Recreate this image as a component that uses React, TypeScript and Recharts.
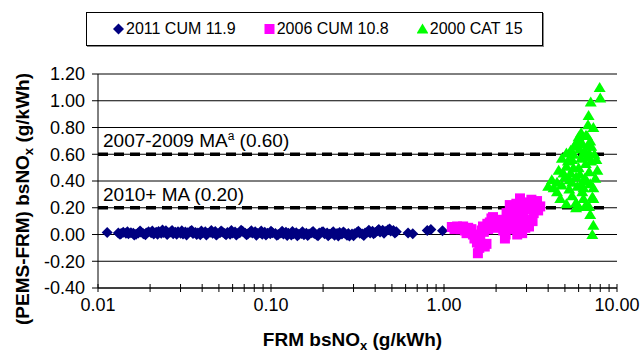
import React from "react";
import {
  ScatterChart,
  Scatter,
  XAxis,
  YAxis,
  CartesianGrid,
  ReferenceLine,
  Legend,
} from "recharts";

const FONT = '"Liberation Sans", Arial, sans-serif';

// x ticks on the log axis, majors get a label
const xTicks = [
  0.01, 0.02, 0.03, 0.04, 0.05, 0.06, 0.07, 0.08, 0.09,
  0.1, 0.2, 0.3, 0.4, 0.5, 0.6, 0.7, 0.8, 0.9,
  1, 2, 3, 4, 5, 6, 7, 8, 9, 10,
];
const xMajor = [0.01, 0.1, 1, 10];
const yTicks = [-0.4, -0.2, 0, 0.2, 0.4, 0.6, 0.8, 1.0, 1.2];

const seriesNames = ["2011 CUM 11.9", "2006 CUM 10.8", "2000 CAT 15"];
const seriesColors = ["#000080", "#FF00FF", "#00FF00"];

// [FRM bsNOx, PEMS-FRM]
const cum2011: [number, number][] = [
  [0.0113, 0.015], [0.0131, 0.012], [0.0136, 0.008], [0.014, 0.016], [0.0145, 0.01],
  [0.015, 0.005], [0.0155, 0.014], [0.016, 0.009], [0.0166, 0.002], [0.0171, 0.012],
  [0.0177, 0.018], [0.0183, 0.006], [0.019, 0.011], [0.0196, 0.02], [0.0203, 0.013],
  [0.021, 0.004], [0.0217, 0.017], [0.0224, 0.022], [0.0232, 0.009], [0.024, 0.015],
  [0.0247, 0.028], [0.0255, 0.012], [0.0263, 0.019], [0.0272, 0.005], [0.028, 0.016],
  [0.029, 0.021], [0.03, 0.01], [0.031, 0.003], [0.032, 0.018], [0.033, 0.013],
  [0.0342, 0.024], [0.0354, 0.008], [0.0366, 0.015], [0.0378, 0.011], [0.039, -0.002],
  [0.0403, 0.014], [0.0417, 0.02], [0.043, 0.007], [0.0445, 0.016], [0.046, 0.01],
  [0.0476, 0.022], [0.049, 0.004], [0.0507, 0.013], [0.0524, 0.018], [0.054, 0.008],
  [0.056, 0.015], [0.058, 0.001], [0.06, 0.012], [0.062, 0.019], [0.064, 0.006],
  [0.066, 0.014], [0.0685, 0.024], [0.071, 0.009], [0.0733, 0.003], [0.0758, 0.016],
  [0.078, 0.011], [0.081, 0.02], [0.0836, 0.007], [0.0865, 0.013], [0.089, 0.002],
  [0.092, 0.017], [0.0955, 0.01], [0.099, 0.005], [0.102, 0.014], [0.106, 0.008],
  [0.11, 0.0], [0.114, 0.012], [0.118, 0.004], [0.122, 0.016], [0.126, 0.009],
  [0.131, -0.004], [0.135, 0.006], [0.14, 0.013], [0.145, 0.001], [0.15, 0.008],
  [0.155, -0.002], [0.16, 0.01], [0.166, 0.004], [0.172, 0.014], [0.178, 0.007],
  [0.184, -0.003], [0.19, 0.011], [0.197, 0.018], [0.204, 0.006], [0.211, 0.012],
  [0.218, 0.002], [0.225, 0.009], [0.233, -0.005], [0.241, 0.007], [0.249, 0.015],
  [0.257, 0.004], [0.266, 0.011], [0.275, -0.006], [0.284, -0.012], [0.294, 0.003],
  [0.304, 0.006], [0.315, 0.016], [0.326, 0.009], [0.337, 0.004], [0.35, 0.012],
  [0.362, 0.018], [0.374, 0.011], [0.386, 0.024], [0.4, 0.015], [0.413, 0.028],
  [0.427, 0.019], [0.442, 0.031], [0.457, 0.022], [0.475, 0.035], [0.492, 0.026],
  [0.51, 0.03], [0.53, 0.021], [0.62, 0.012], [0.66, 0.006], [0.8, 0.03],
  [0.84, 0.038], [0.98, 0.028],
  // second pass of the same runs, a little more spread
  [0.0134, 0.002], [0.0148, 0.021], [0.0162, -0.004], [0.0175, 0.026], [0.0188, -0.002],
  [0.0206, 0.027], [0.0221, 0.001], [0.0236, 0.033], [0.0251, 0.0], [0.0268, 0.03],
  [0.0285, 0.002], [0.0305, 0.028], [0.0325, -0.003], [0.0348, 0.03], [0.0372, 0.0],
  [0.0396, 0.026], [0.0423, -0.004], [0.0452, 0.029], [0.0483, -0.003], [0.0515, 0.027],
  [0.055, -0.002], [0.059, 0.03], [0.063, -0.004], [0.0672, 0.031], [0.0722, -0.002],
  [0.077, 0.028], [0.0823, -0.005], [0.0878, 0.026], [0.0935, -0.003], [0.1, 0.025],
  [0.108, -0.006], [0.116, 0.024], [0.124, -0.007], [0.133, 0.022], [0.142, -0.009],
  [0.152, 0.021], [0.163, -0.008], [0.175, 0.022], [0.187, -0.01], [0.2, 0.02],
  [0.214, -0.009], [0.229, 0.021], [0.245, -0.011], [0.262, 0.019], [0.28, 0.008],
  [0.3, -0.01], [0.32, 0.024], [0.344, -0.008], [0.368, 0.032], [0.392, 0.006],
  [0.42, 0.038], [0.45, 0.01], [0.485, 0.041], [0.52, 0.012],
];

const cum2006: [number, number][] = [
  [1.11, 0.056], [1.19, 0.06], [1.25, 0.04], [1.32, 0.03], [1.38, 0.05],
  [1.42, 0.02], [1.47, 0.0], [1.5, -0.03], [1.55, -0.06], [1.57, -0.14],
  [1.6, -0.1], [1.65, 0.03], [1.68, 0.06], [1.72, -0.09], [1.76, -0.07],
  [1.8, 0.04], [1.84, 0.09], [1.88, 0.12], [1.92, 0.13], [1.97, 0.08],
  [2.0, 0.05], [2.1, 0.07], [2.2, 0.03], [2.25, -0.03], [2.27, 0.0],
  [2.3, 0.16], [2.38, 0.12], [2.4, 0.22], [2.47, 0.09], [2.5, 0.15],
  [2.52, 0.04], [2.6, 0.17], [2.65, 0.0], [2.68, 0.2], [2.75, 0.27],
  [2.8, 0.14], [2.83, 0.01], [2.85, 0.1], [2.9, 0.22], [2.95, 0.05],
  [3.0, 0.11], [3.05, 0.19], [3.1, 0.06], [3.2, 0.26], [3.3, 0.16],
  [3.45, 0.25], [3.6, 0.21],
  [1.15, 0.04], [1.29, 0.06], [1.35, 0.01], [1.44, 0.04], [1.53, -0.02],
  [1.62, -0.04], [1.7, 0.02], [1.78, 0.08], [1.9, 0.06], [2.05, 0.11],
  [2.15, 0.09], [2.33, 0.06], [2.44, 0.19], [2.56, 0.11], [2.62, 0.23],
  [2.72, 0.05], [2.78, 0.21], [2.88, 0.16], [3.0, 0.24], [3.15, 0.2],
  [3.25, 0.1], [3.38, 0.22], [3.5, 0.18],
];

const cat2000: [number, number][] = [
  [4.0, 0.36], [4.2, 0.41], [4.3, 0.35], [4.5, 0.39], [4.5, 0.32],
  [4.6, 0.48], [4.7, 0.27], [4.8, 0.57], [4.8, 0.37], [5.0, 0.43],
  [5.1, 0.61], [5.1, 0.51], [5.1, 0.23], [5.3, 0.41], [5.4, 0.63],
  [5.4, 0.46], [5.5, 0.56], [5.5, 0.39], [5.5, 0.29], [5.7, 0.67],
  [5.8, 0.66], [5.8, 0.43], [5.8, 0.24], [5.8, 0.2], [6.0, 0.73],
  [6.0, 0.5], [6.0, 0.21], [6.2, 0.76], [6.3, 0.32], [6.4, 0.61],
  [6.4, 0.35], [6.6, 0.74], [6.6, 0.53], [6.6, 0.22], [6.7, 0.74],
  [6.8, 0.82], [6.85, 0.89], [6.9, 0.61], [6.9, 0.21], [7.05, 0.99],
  [7.0, 0.15], [7.1, 0.66], [7.2, 0.28], [7.2, 0.0], [7.3, 0.8],
  [7.3, 0.35], [7.3, 0.27], [7.3, 0.07], [7.7, 0.48], [7.94, 1.1],
  [8.0, 1.02],
  [5.2, 0.55], [5.6, 0.6], [5.9, 0.7], [6.1, 0.64], [6.2, 0.57],
  [6.3, 0.68], [6.5, 0.62], [6.7, 0.58], [6.8, 0.66], [7.0, 0.7],
  [6.1, 0.45], [6.5, 0.42], [6.9, 0.47], [7.1, 0.55], [7.4, 0.6],
  [5.6, 0.5], [6.2, 0.38], [6.7, 0.4], [7.0, 0.38], [7.6, 0.56],
  [5.3, 0.34], [6.4, 0.27], [7.5, 0.42], [4.9, 0.46], [5.9, 0.36],
];

const toPoints = (rows: [number, number][]) => rows.map(([x, y]) => ({ x, y }));

const maLines = [
  { y: 0.6, label: "2007-2009 MA", sup: "a", tail: " (0.60)" },
  { y: 0.2, label: "2010+ MA", sup: "", tail: " (0.20)" },
];

const Diamond = ({ cx, cy, fill }: any) => (
  <path d={`M${cx},${cy - 5.5}L${cx + 5.5},${cy}L${cx},${cy + 5.5}L${cx - 5.5},${cy}Z`} fill={fill} />
);
const Square = ({ cx, cy, fill }: any) => (
  <rect x={cx - 5} y={cy - 5} width={10} height={10} fill={fill} />
);
const Triangle = ({ cx, cy, fill }: any) => (
  <path d={`M${cx},${cy - 5.5}L${cx + 6},${cy + 4.5}L${cx - 6},${cy + 4.5}Z`} fill={fill} />
);
const shapes = [Diamond, Square, Triangle];

const XTick = ({ x, y, payload }: any) => {
  const v = payload.value;
  const major = xMajor.some((m) => Math.abs(m - v) < 1e-9);
  return (
    <g>
      <line x1={x} x2={x} y1={y - 4} y2={y + 4} stroke="#000" />
      {major && (
        <text x={x} y={y + 23} textAnchor="middle" fontSize={18} fontFamily={FONT} fill="#000">
          {v.toFixed(2)}
        </text>
      )}
    </g>
  );
};

const renderLegend = () => (
  <div
    style={{
      boxSizing: "border-box",
      height: 34,
      border: "1px solid #000",
      boxShadow: "1px 1px 0 #888",
      background: "#fff",
      display: "flex",
      alignItems: "center",
      paddingLeft: 26,
      gap: 28,
      fontFamily: FONT,
      fontSize: 16,
      color: "#000",
    }}
  >
    {seriesNames.map((name, i) => {
      const Shape = shapes[i];
      return (
        <div key={name} style={{ display: "flex", alignItems: "center" }}>
          <svg width={11} height={12} style={{ marginRight: 2 }}>
            <Shape cx={5.5} cy={6} fill={seriesColors[i]} />
          </svg>
          <span>{name}</span>
        </div>
      );
    })}
  </div>
);

const maLabel = (line: (typeof maLines)[number]) => (props: any) => {
  const vb = props.viewBox;
  return (
    <text x={vb.x + 5} y={vb.y - 7} fontSize={19} fontFamily={FONT} fill="#000">
      {line.label}
      {line.sup && (
        <tspan dy={-7} fontSize={12}>
          {line.sup}
        </tspan>
      )}
      <tspan dy={line.sup ? 7 : 0}>{line.tail}</tspan>
    </text>
  );
};

const yTitle = (props: any) => {
  const vb = props.viewBox;
  const cx = vb.x + 29;
  const cy = vb.y + vb.height / 2 + 18;
  return (
    <text
      x={cx}
      y={cy}
      transform={`rotate(-90, ${cx}, ${cy})`}
      textAnchor="middle"
      fontSize={19}
      fontWeight="bold"
      fontFamily={FONT}
      fill="#000"
    >
      (PEMS-FRM) bsNO
      <tspan dy={4} fontSize={13}>x</tspan>
      <tspan dy={-4}> (g/kWh)</tspan>
    </text>
  );
};

const xTitle = (props: any) => {
  const vb = props.viewBox;
  return (
    <text
      x={vb.x + vb.width / 2 - 5}
      y={vb.y + 58}
      textAnchor="middle"
      fontSize={19}
      fontWeight="bold"
      fontFamily={FONT}
      fill="#000"
    >
      FRM bsNO
      <tspan dy={4} fontSize={13}>x</tspan>
      <tspan dy={-4}> (g/kWh)</tspan>
    </text>
  );
};

export default function App() {
  const series = [cum2011, cum2006, cat2000];
  return (
    <div style={{ position: "absolute", left: 0, top: 0, width: 641, height: 354, background: "#fff" }}>
      <ScatterChart width={641} height={354} margin={{ top: 74, right: 24, bottom: 0, left: 0 }}>
        <CartesianGrid vertical={false} stroke="#000" />
        <XAxis
          type="number"
          dataKey="x"
          scale="log"
          domain={[0.01, 10]}
          ticks={xTicks}
          interval={0}
          allowDataOverflow
          height={66}
          tickSize={0}
          tickMargin={0}
          tickLine={false}
          tick={<XTick />}
          axisLine={{ stroke: "#000" }}
          label={xTitle}
        />
        <YAxis
          type="number"
          dataKey="y"
          domain={[-0.4, 1.2]}
          ticks={yTicks}
          interval={0}
          width={98}
          tickSize={6}
          tickMargin={7}
          tickLine={{ stroke: "#000" }}
          axisLine={{ stroke: "#000" }}
          tick={{ fontSize: 18, fontFamily: FONT, fill: "#000" }}
          tickFormatter={(v: number) => v.toFixed(2)}
          label={yTitle}
        />
        <Legend
          verticalAlign="middle"
          align="center"
          content={renderLegend}
          wrapperStyle={{ top: 12, left: 86, width: 457, height: 34 }}
        />
        {series.map((rows, i) => {
          const Shape = shapes[i];
          return (
            <Scatter
              key={seriesNames[i]}
              name={seriesNames[i]}
              data={toPoints(rows)}
              fill={seriesColors[i]}
              shape={(p: any) => <Shape cx={p.cx} cy={p.cy} fill={seriesColors[i]} />}
              isAnimationActive={false}
            />
          );
        })}
        {maLines.map((line) => (
          <ReferenceLine
            key={line.label}
            segment={[
              { x: 0.01, y: line.y },
              { x: 8.7, y: line.y },
            ]}
            stroke="#000"
            strokeWidth={3.5}
            strokeDasharray="10 6"
            label={maLabel(line)}
          />
        ))}
      </ScatterChart>
    </div>
  );
}
